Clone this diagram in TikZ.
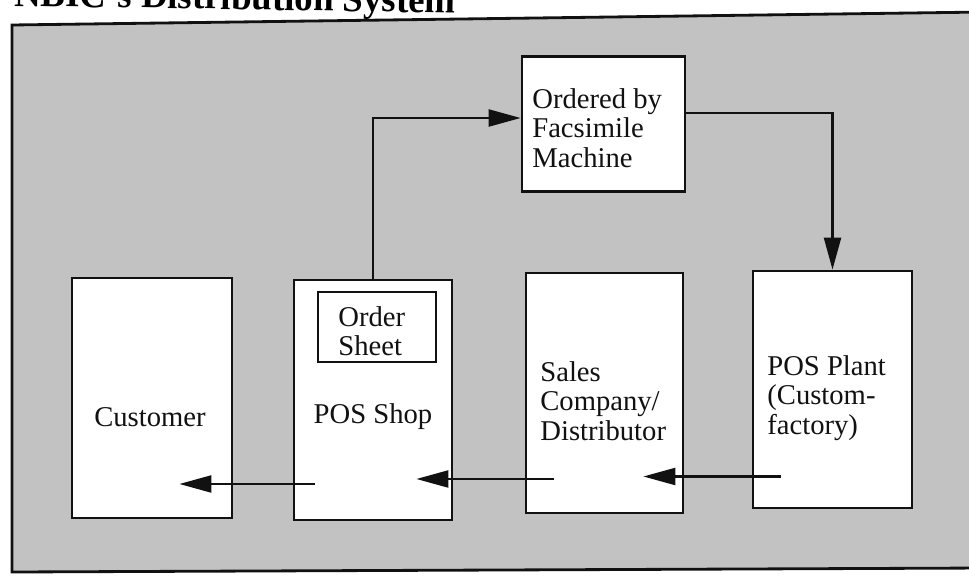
\documentclass[tikz,border=0pt]{standalone}
\usepackage{fontspec}
\setmainfont{Liberation Serif}
\usepackage{tikz}
\usepackage{xcolor}
\usetikzlibrary{arrows.meta,positioning,calc}
\definecolor{ink}{HTML}{111111}
\definecolor{screen}{HTML}{C2C2C2}
\tikzset{
  stage/.style={draw=ink,fill=white,line width=1.6pt,inner sep=0pt},
  tag/.style={font=\fontsize{16.3}{16.8}\selectfont,align=left,inner sep=0pt,text=ink},
  flowarr/.style={-{Triangle[length=6.4mm,width=3.4mm]},line width=1.3pt,color=ink}
}

\begin{document}
\begin{tikzpicture}[x=0.02cm,y=-0.02cm]
  \useasboundingbox (0,0) rectangle (969,575);
  \clip (0,0) rectangle (969,575);

  % cut-off heading and shaded frame
  \node[anchor=base west,rotate=-0.9,inner sep=0pt,
        font=\fontsize{21}{24}\selectfont\bfseries] (heading) at (14,6)
    {NBIC's Distribution System};
  \draw[fill=screen,line width=1.6pt,draw=ink]
    (12,25) -- (985,12) -- (985,568) -- (12,572) -- cycle;

  % main boxes
  \node[stage,minimum width=3.20cm,minimum height=4.80cm] (cust)  at (152,398) {};
  \node[stage,minimum width=3.16cm,minimum height=4.80cm] (shop)  at (373,400) {};
  \node[stage,minimum width=3.14cm,minimum height=4.80cm] (sales) at (604.5,393) {};
  \node[stage,minimum width=3.18cm,minimum height=4.74cm] (plant) at (832.5,389.5) {};
  \node[stage,minimum width=3.26cm,minimum height=2.70cm] (fax)   at (603.5,124) {};
  \node[stage,line width=1.3pt,minimum width=2.36cm,minimum height=1.40cm] (sheet) at (377,327) {};

  % texts
  \node[tag] (custlbl)  at (150,417) {Customer};
  \node[tag] (shoplbl)  at (373,417) {POS Shop};
  \node[tag,anchor=west] (sheetlbl) at (338,331) {Order\\Sheet};
  \node[tag,anchor=west] (saleslbl) at (540,401) {Sales\\Company/\\Distributor};
  \node[tag,anchor=west] (plantlbl) at (767,398) {POS Plant\\(Custom-\\factory)};
  \node[tag,anchor=west] (faxlbl)   at (532,128) {Ordered by\\Facsimile\\Machine};

  % ordering path
  \draw[flowarr] (shop.north) |- ([yshift=0.12cm]fax.west);
  \draw[flowarr] ([yshift=0.22cm]fax.east) -| (plant.north);

  % delivery path
  \coordinate (plantout) at ([xshift=0.58cm,yshift=-1.74cm]plant.west);
  \coordinate (salesin)  at ([xshift=-0.82cm]sales.east);
  \coordinate (salesout) at ([xshift=0.58cm,yshift=-1.72cm]sales.west);
  \coordinate (shopin)   at ([xshift=-0.74cm]shop.east);
  \coordinate (shopout)  at ([xshift=0.44cm,yshift=-1.68cm]shop.west);
  \coordinate (custin)   at ([xshift=-1.08cm]cust.east);
  \draw[flowarr] (plantout) -- (plantout -| salesin);
  \draw[flowarr] (salesout) -- (salesout -| shopin);
  \draw[flowarr] (shopout) -- (shopout -| custin);
\end{tikzpicture}
\end{document}
